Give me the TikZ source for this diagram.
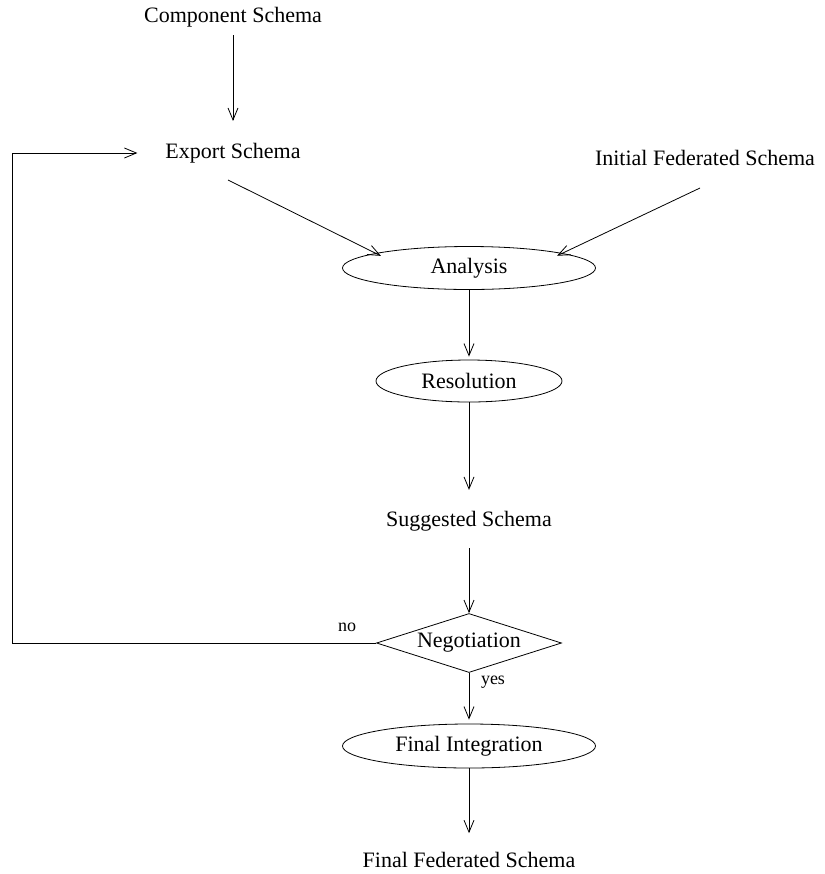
\documentclass[tikz,border=0pt]{standalone}
\usepackage{fontspec}
\setmainfont{Liberation Serif}
\usepackage{tikz}
\usetikzlibrary{shapes.geometric}
\usetikzlibrary{arrows.meta}
\tikzset{process/.style={draw, ellipse, inner sep = 0pt, font = \fontsize{11}{13}\selectfont},
	decision/.style={draw, diamond, aspect = 3, inner sep = 0pt, minimum width = 92.5pt, minimum height = 29.5pt, font = \fontsize{11}{13}\selectfont},
	schema/.style={font = \fontsize{11}{13}\selectfont},
	answer/.style={font = \fontsize{9}{11}\selectfont},
	flow/.style={-{Straight Barb[length = 6pt, width = 5pt]}, line width = 0.4pt}}

\begin{document}
\begin{tikzpicture}[x = 0.5pt, y = -0.5pt]

					\useasboundingbox (0,0) rectangle (825,874);

					% schemas
					\node[schema] (component) at (233,17) {Component Schema};
					\node[schema] (export) at (233,153) {Export Schema};
					\node[schema] (initial) at (705,158) {Initial Federated Schema};
					\node[schema] (suggested) at (469,521) {Suggested Schema};
					\node[schema] (final) at (469,860) {Final Federated Schema};

					% steps
					\node[process, minimum width = 126.5pt, minimum height = 21.5pt] (analysis) at (469,268) {Analysis};
					\node[process, minimum width = 93pt, minimum height = 21pt] (resolution) at (469,381) {Resolution};
					\node[decision] (negotiation) at (469,643) {Negotiation};
					\node[process, minimum width = 126.5pt, minimum height = 22pt] (integration) at (469,746) {Final Integration};

					\node[answer] (no) at (347,627) {no};
					\node[answer] (yes) at (493,682) {yes};

					\coordinate (exportout) at (228,180);
					\coordinate (initialout) at (700,188);
					\coordinate (loop) at (12,643);

					\draw[flow, shorten < = 0.5pt, shorten > = 7.5pt] (component) -- (export);
					\draw[flow, shorten > = -3pt] (exportout) -- (analysis.171);
					\draw[flow, shorten > = -3pt] (initialout) -- (analysis.9);
					\draw[flow, shorten > = 1.5pt] (analysis) -- (resolution);
					\draw[flow, shorten > = 7pt] (resolution) -- (suggested);
					\draw[flow, shorten < = 5pt] (suggested) -- (negotiation);
					\draw[flow, shorten > = 2pt] (negotiation) -- (integration);
					\draw[flow, shorten > = 6pt] (integration) -- (final);
					\draw[flow, shorten > = 10.5pt] (negotiation.west) -- (loop) |- (export.west);

\end{tikzpicture}
\end{document}
